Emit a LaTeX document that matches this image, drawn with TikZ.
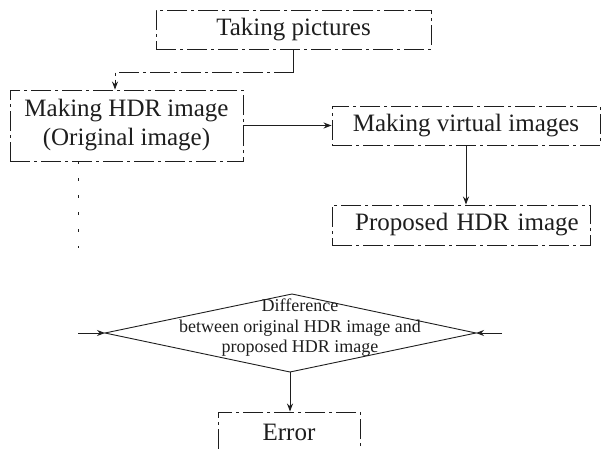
\documentclass[tikz,border=0pt]{standalone}
\usepackage{fontspec}
\setmainfont{Liberation Serif}
\usetikzlibrary{arrows.meta}
\definecolor{cInk}{RGB}{30,30,30}

\begin{document}
\begin{tikzpicture}[
  x=1pt, y=-1pt, color=cInk,
  bx/.style   ={draw=cInk, line width=0.9pt,
                dash pattern=on 20pt off 4pt on 3pt off 4pt,
                inner sep=0pt, align=center,
                font=\fontsize{25}{29}\selectfont},
  flow/.style ={-{Stealth[length=8pt,width=6pt]}, line width=1pt, draw=cInk},
  faint/.style={line width=0.8pt, dash pattern=on 3pt off 14pt, draw=cInk},
  lbl/.style  ={align=center, inner sep=0pt,
                font=\fontsize{18}{20.5}\selectfont},
]

\useasboundingbox (0,0) rectangle (606,450);

% ----- boxes --------------------------------------------------------------
\node[bx,minimum width=275pt,minimum height=39pt] (take) at (293.5,29.5)
      {Taking pictures};
\node[bx,minimum width=233pt,minimum height=71pt] (hdr) at (126.5,125.5)
      {Making HDR image\\ (Original image)};
\node[bx,minimum width=268pt,minimum height=39pt] (virt) at (466,125.5)
      {Making virtual images};
\node[bx,minimum width=258pt,minimum height=40pt,text width=258pt] (prop) at (461,225)
      {\hspace*{12pt}Proposed HDR image};
\node[bx,minimum width=142pt,minimum height=40pt] (err) at (289,432)
      {Error};

% ----- decision -----------------------------------------------------------
\coordinate (dl) at (105,333);
\coordinate (dt) at (292,294);
\coordinate (dr) at (476,333);
\coordinate (db) at (290,372);
\draw[line width=0.9pt] (dl) -- (dt) -- (dr) -- (db) -- cycle;
\node[lbl] (diff) at (300,328)
      {Difference\\ between original HDR image and\\ proposed HDR image};

% ----- connectors ---------------------------------------------------------
\coordinate (bend) at (115,72);
\draw[line width=0.9pt] (take.south) -- (take.south |- bend);
\draw[flow,line width=0.9pt,dash pattern=on 20pt off 4pt on 3pt off 4pt]
      (take.south |- bend) -- (bend) -- (bend |- hdr.north);
\draw[flow] (hdr.east) -- (virt.west);
\draw[flow] (virt.south) -- (virt.south |- prop.north);

\coordinate (lft) at (78,333);
\coordinate (rgt) at (502,333);
\draw[faint] (hdr.south -| lft) -- (78,248);
\draw[flow] (lft) -- (dl);
\draw[flow] (rgt) -- (dr);
\draw[flow] (db) -- (db |- err.north);

\end{tikzpicture}
\end{document}
